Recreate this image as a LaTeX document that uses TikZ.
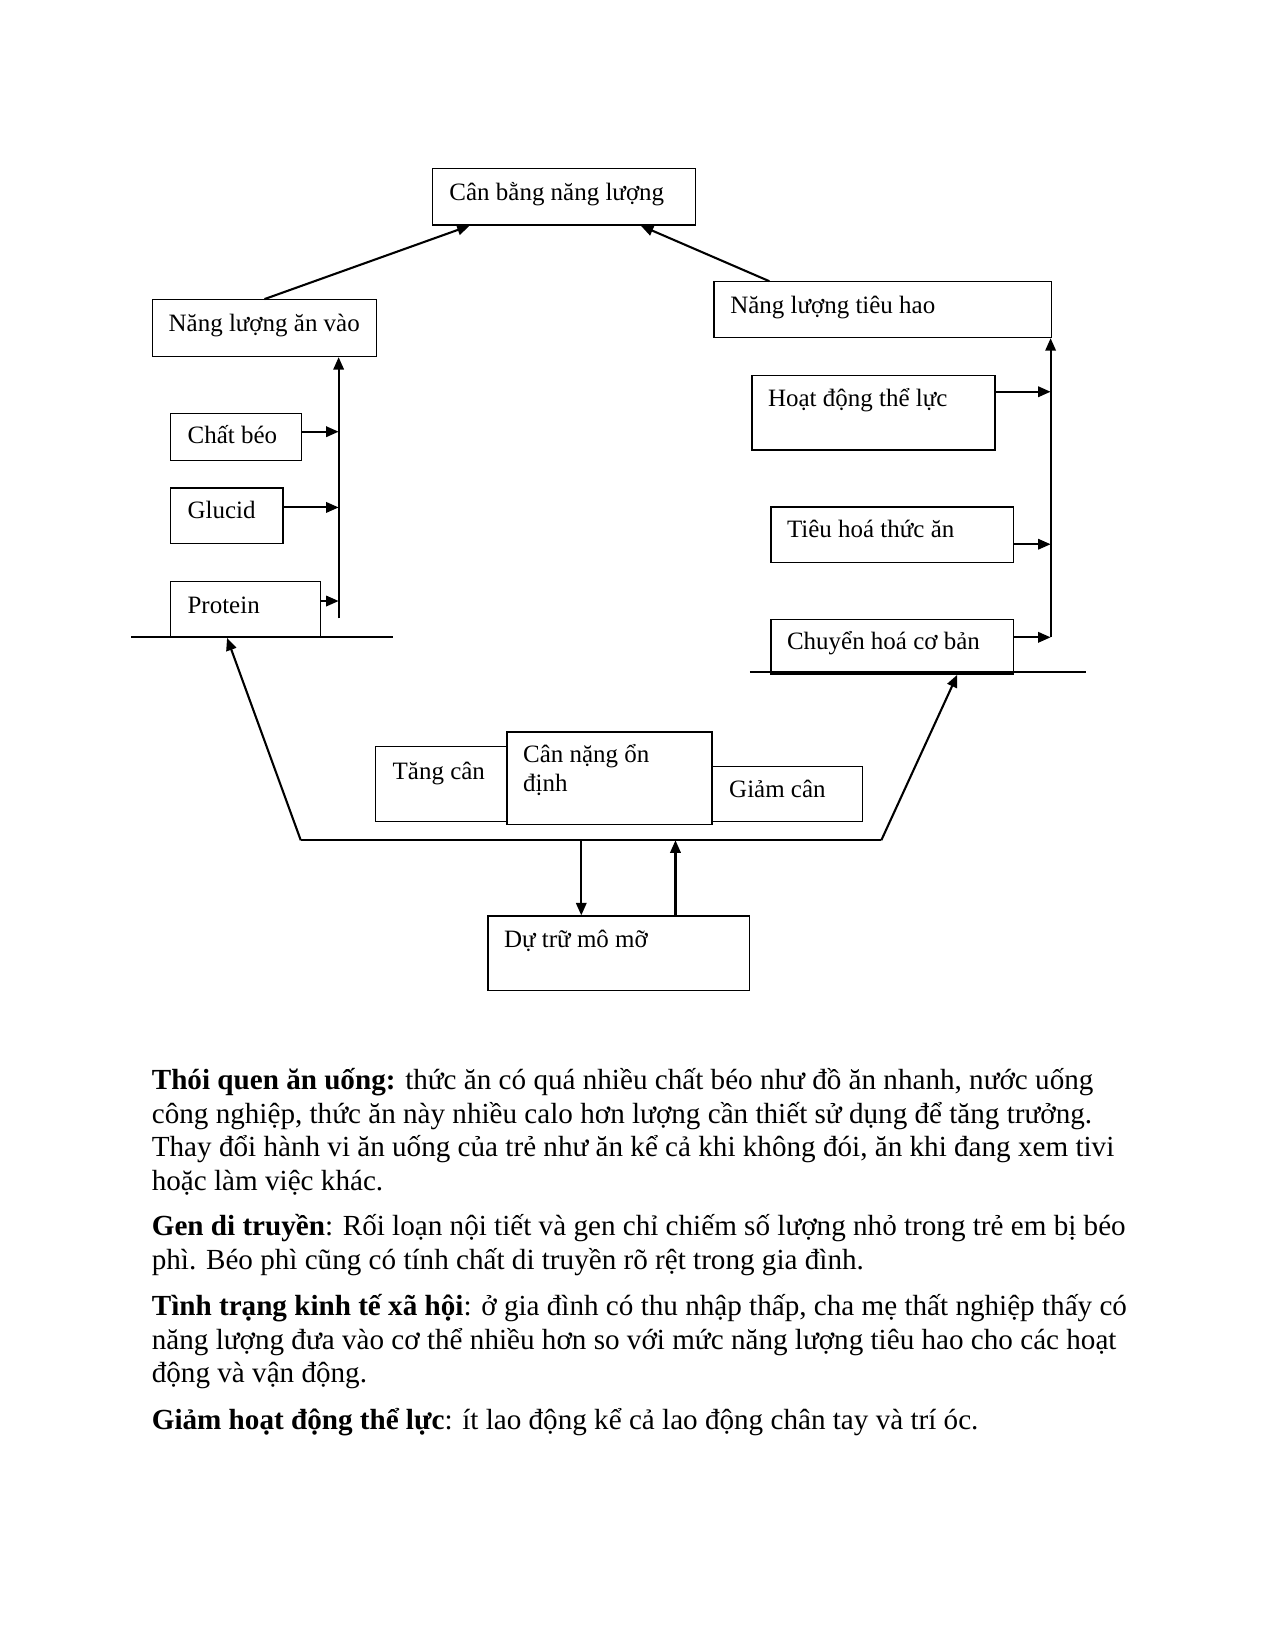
\documentclass[tikz,border=0pt]{standalone}
\usepackage{fontspec}
\setmainfont{Liberation Serif}
\usetikzlibrary{arrows.meta,calc,fit}
\tikzset{
  boxst/.style={draw, line width=0.6pt, inner sep=0pt, rectangle},
  lbl/.style={anchor=base west, inner sep=0pt, font=\fontsize{12}{14}\selectfont},
  para/.style={anchor=base west, inner sep=0pt, font=\fontsize{14}{16}\selectfont},
  conn/.style={line width=1pt},
  arr/.style={line width=1pt, -{Triangle[length=6pt,width=5pt]}}
}
\begin{document}
\begin{tikzpicture}[x=0.50537pt,y=-0.50537pt]
\useasboundingbox (0,0) rectangle (1211,1568);
% boxes
\node[boxst, fit={(411,160) (661,214)}] (cb) {};
\node[boxst, fit={(145,285) (358,339)}] (nlav) {};
\node[boxst, fit={(679,268) (1000,321)}] (nlth) {};
\node[boxst, fit={(162,393) (287,438)}] (beo) {};
\node[boxst, fit={(162,464) (269,517)}] (glu) {};
\node[boxst, fit={(162,553) (305,606)}] (prot) {};
\node[boxst, fit={(715,357) (946,428)}] (hd) {};
\node[boxst, fit={(733,482) (964,535)}] (th) {};
\node[boxst, fit={(733,589) (964,641)}] (ch) {};
\node[boxst, fit={(357,710) (482,781)}] (tang) {};
\node[boxst, fit={(482,696) (677,784)}] (on) {};
\node[boxst, fit={(677,729) (820,781)}] (giam) {};
\node[boxst, fit={(464,871) (713,942)}] (dt) {};
% labels
\node[lbl] (tcb) at (427,191) {Cân bằng năng lượng};
\node[lbl] (tnlav) at (160,315) {Năng lượng ăn vào};
\node[lbl] (tnlth) at (694,298) {Năng lượng tiêu hao};
\node[lbl] (tbeo) at (178,422) {Chất béo};
\node[lbl] (tglu) at (178,493) {Glucid};
\node[lbl] (tprot) at (178,583) {Protein};
\node[lbl] (thd) at (730,387) {Hoạt động thể lực};
\node[lbl] (tth) at (748,511) {Tiêu hoá thức ăn};
\node[lbl] (tch) at (748,618) {Chuyển hoá cơ bản};
\node[lbl] (ttang) at (373,741) {Tăng cân};
\node[lbl] (ton1) at (497,725) {Cân nặng ổn};
\node[lbl] (ton2) at (497,753) {định};
\node[lbl] (tgiam) at (693,758) {Giảm cân};
\node[lbl] (tdt) at (479,901) {Dự trữ mô mỡ};
% helper coordinates
\coordinate (lbus) at (322,588);
\coordinate (rbus) at (999,606);
\coordinate (ll1) at (125,606);
\coordinate (ll2) at (374,606);
\coordinate (rl1) at (713,639);
\coordinate (rl2) at (1033,639);
\coordinate (bl) at (286,799);
\coordinate (br) at (838,799);
\coordinate (sbeo) at ($(beo.east)+(0,-5)$);
\coordinate (sglu) at ($(glu.east)+(0,-8)$);
\coordinate (sprot) at ($(prot.east)+(0,-8)$);
\coordinate (shd) at ($(hd.east)+(0,-20)$);
\coordinate (sth) at ($(th.east)+(0,9)$);
\coordinate (sch) at ($(ch.east)+(0,-9)$);
\coordinate (dtin) at ($(dt.north west)!0.357!(dt.north east)$);
\coordinate (dtout) at ($(dt.north west)!0.715!(dt.north east)$);
% top arrows
\draw[arr] (nlav.north) -- ($(cb.south west)!0.144!(cb.south east)$);
\draw[arr] ($(nlth.north west)!0.165!(nlth.north east)$) -- ($(cb.south west)!0.792!(cb.south east)$);
% left bus
\draw[arr] (lbus) -- (lbus |- nlav.south);
\draw[arr] (sbeo) -- (sbeo -| lbus);
\draw[arr] (sglu) -- (sglu -| lbus);
\draw[arr] (sprot) -- (sprot -| lbus);
\draw[conn] (ll1) -- (ll2);
% right bus
\draw[arr] (rbus) -- (rbus |- nlth.south);
\draw[arr] (shd) -- (shd -| rbus);
\draw[arr] (sth) -- (sth -| rbus);
\draw[arr] (sch) -- (sch -| rbus);
\draw[conn] (rl1) -- (rl2);
% bottom loop
\draw[conn] (bl) -- (br);
\draw[arr] (bl) -- ($(prot.south west)!0.378!(prot.south east)$);
\draw[arr] (br) -- ($(ch.south west)!0.766!(ch.south east)$);
\draw[arr] (dtin |- bl) -- (dtin);
\draw[arr] (dtout) -- (dtout |- bl);
% paragraphs
\node[para] (p1) at (144,1036) {\textbf{Thói quen ăn uống:} thức ăn có quá nhiều chất béo như đồ ăn nhanh, nước uống};
\node[para] (p2) at (144,1068) {công nghiệp, thức ăn này nhiều calo hơn lượng cần thiết sử dụng để tăng trưởng.};
\node[para] (p3) at (144,1100) {Thay đổi hành vi ăn uống của trẻ như ăn kể cả khi không đói, ăn khi đang xem tivi};
\node[para] (p4) at (144,1132) {hoặc làm việc khác.};
\node[para] (p5) at (144,1175) {\textbf{Gen di truyền}: Rối loạn nội tiết và gen chỉ chiếm số lượng nhỏ trong trẻ em bị béo};
\node[para] (p6) at (144,1207) {phì. Béo phì cũng có tính chất di truyền rõ rệt trong gia đình.};
\node[para] (p7) at (144,1251) {\textbf{Tình trạng kinh tế xã hội}: ở gia đình có thu nhập thấp, cha mẹ thất nghiệp thấy có};
\node[para] (p8) at (144,1283) {năng lượng đưa vào cơ thể nhiều hơn so với mức năng lượng tiêu hao cho các hoạt};
\node[para] (p9) at (144,1315) {động và vận động.};
\node[para] (p10) at (144,1359) {\textbf{Giảm hoạt động thể lực}: ít lao động kể cả lao động chân tay và trí óc.};
\end{tikzpicture}
\end{document}
